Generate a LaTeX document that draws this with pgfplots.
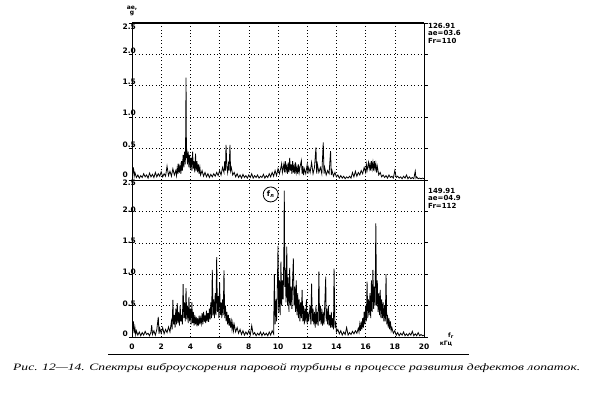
\documentclass[border=0pt]{standalone}
\usepackage{fontspec}
\usepackage{pgfplots}
\pgfplotsset{compat=1.18}
\setmainfont{DejaVu Sans}
\newfontfamily\capfont{Liberation Serif}[ItalicFont={Liberation Serif Italic}]
\newcommand\lf{\fontsize{7.5}{8}\selectfont\bfseries}
\newcommand\rf{\fontsize{7}{7.6}\selectfont\bfseries}
\newcommand\smf{\fontsize{6}{6}\selectfont\bfseries}
\newcommand\lab[2]{\raisebox{#1}[5.5pt][0pt]{#2}}

\pgfplotstableread{
x y
0.00 0.28
0.05 0.10
0.10 0.20
0.15 0.06
0.20 0.12
0.30 0.04
0.40 0.08
0.50 0.03
0.60 0.07
0.70 0.04
0.80 0.10
0.90 0.05
1.00 0.08
1.10 0.03
1.20 0.11
1.30 0.05
1.40 0.09
1.50 0.04
1.60 0.12
1.70 0.05
1.80 0.10
1.90 0.06
2.00 0.13
2.10 0.05
2.20 0.10
2.30 0.06
2.40 0.22
2.50 0.07
2.60 0.14
2.70 0.06
2.80 0.18
2.90 0.08
3.00 0.15
3.05 0.07
3.10 0.20
3.15 0.10
3.20 0.26
3.25 0.12
3.30 0.22
3.35 0.10
3.40 0.30
3.45 0.15
3.50 0.40
3.55 0.20
3.60 0.45
3.65 0.25
3.68 0.77
3.70 1.63
3.73 0.35
3.75 0.50
3.80 0.25
3.85 0.45
3.90 0.20
3.95 0.40
4.00 0.18
4.05 0.35
4.10 0.15
4.15 0.45
4.20 0.18
4.25 0.30
4.30 0.12
4.35 0.42
4.40 0.15
4.45 0.30
4.50 0.12
4.55 0.25
4.60 0.10
4.65 0.20
4.70 0.08
4.80 0.15
4.90 0.06
5.00 0.12
5.10 0.05
5.20 0.10
5.30 0.04
5.40 0.09
5.50 0.05
5.60 0.10
5.70 0.06
5.80 0.12
5.90 0.07
6.00 0.15
6.10 0.08
6.20 0.20
6.30 0.12
6.35 0.30
6.40 0.15
6.44 0.56
6.50 0.20
6.55 0.12
6.60 0.25
6.65 0.15
6.71 0.56
6.75 0.15
6.80 0.20
6.90 0.08
7.00 0.12
7.10 0.05
7.20 0.10
7.30 0.04
7.40 0.08
7.50 0.03
7.60 0.09
7.70 0.04
7.80 0.07
7.90 0.03
8.00 0.08
8.10 0.04
8.20 0.10
8.30 0.03
8.40 0.07
8.50 0.04
8.60 0.08
8.70 0.03
8.80 0.06
8.90 0.04
9.00 0.09
9.10 0.03
9.20 0.07
9.30 0.04
9.40 0.10
9.50 0.05
9.60 0.12
9.70 0.06
9.80 0.15
9.90 0.07
10.00 0.18
10.10 0.10
10.20 0.20
10.25 0.26
10.30 0.12
10.40 0.25
10.45 0.12
10.50 0.30
10.55 0.15
10.60 0.22
10.65 0.10
10.70 0.28
10.75 0.12
10.80 0.35
10.85 0.15
10.90 0.25
10.95 0.10
11.00 0.30
11.05 0.12
11.10 0.22
11.15 0.10
11.20 0.28
11.25 0.12
11.30 0.20
11.35 0.10
11.40 0.25
11.45 0.12
11.50 0.20
11.60 0.31
11.65 0.10
11.70 0.22
11.75 0.08
11.80 0.18
11.90 0.10
12.00 0.25
12.05 0.10
12.10 0.20
12.20 0.12
12.30 0.28
12.40 0.10
12.50 0.20
12.60 0.52
12.65 0.10
12.70 0.25
12.80 0.12
12.90 0.20
13.00 0.10
13.10 0.60
13.15 0.10
13.20 0.20
13.30 0.08
13.40 0.15
13.50 0.10
13.60 0.46
13.65 0.08
13.70 0.15
13.80 0.06
13.90 0.12
14.00 0.05
14.10 0.08
14.20 0.03
14.30 0.07
14.40 0.03
14.50 0.06
14.60 0.02
14.70 0.05
14.80 0.03
14.90 0.06
15.00 0.03
15.10 0.12
15.20 0.05
15.30 0.14
15.40 0.06
15.50 0.12
15.60 0.08
15.70 0.15
15.80 0.10
15.90 0.20
16.00 0.12
16.05 0.25
16.10 0.15
16.20 0.28
16.25 0.18
16.30 0.25
16.35 0.15
16.40 0.30
16.45 0.18
16.50 0.28
16.55 0.15
16.60 0.30
16.65 0.18
16.70 0.26
16.75 0.12
16.80 0.22
16.90 0.08
17.00 0.12
17.10 0.05
17.20 0.08
17.30 0.04
17.40 0.07
17.50 0.03
17.60 0.08
17.70 0.04
17.80 0.06
17.90 0.03
18.00 0.15
18.10 0.04
18.20 0.06
18.30 0.03
18.40 0.05
18.50 0.02
18.60 0.06
18.70 0.03
18.80 0.08
18.90 0.02
19.00 0.05
19.10 0.02
19.20 0.04
19.30 0.02
19.40 0.14
19.45 0.03
19.50 0.05
19.60 0.02
19.70 0.03
19.80 0.02
19.90 0.03
20.00 0.02
}\topdata

\pgfplotstableread{
x y
0.00 0.38
0.05 0.10
0.10 0.25
0.15 0.06
0.20 0.15
0.25 0.04
0.30 0.10
0.40 0.03
0.50 0.08
0.60 0.02
0.70 0.07
0.80 0.03
0.90 0.09
1.00 0.04
1.10 0.06
1.20 0.02
1.30 0.08
1.35 0.19
1.40 0.04
1.50 0.10
1.60 0.03
1.70 0.12
1.80 0.32
1.85 0.05
1.90 0.14
2.00 0.06
2.10 0.15
2.20 0.05
2.30 0.12
2.40 0.07
2.50 0.16
2.60 0.08
2.70 0.25
2.75 0.12
2.80 0.59
2.85 0.20
2.90 0.35
2.95 0.15
3.00 0.45
3.05 0.20
3.10 0.54
3.15 0.22
3.20 0.40
3.25 0.18
3.30 0.50
3.35 0.25
3.40 0.35
3.45 0.20
3.50 0.84
3.55 0.30
3.60 0.55
3.65 0.25
3.70 0.78
3.75 0.28
3.80 0.50
3.85 0.22
3.90 0.64
3.95 0.25
4.00 0.45
4.05 0.20
4.10 0.55
4.15 0.22
4.20 0.40
4.25 0.18
4.30 0.35
4.35 0.20
4.40 0.32
4.45 0.17
4.50 0.30
4.55 0.18
4.60 0.34
4.65 0.20
4.70 0.30
4.75 0.22
4.80 0.38
4.85 0.20
4.90 0.40
4.95 0.24
5.00 0.35
5.05 0.22
5.10 0.42
5.15 0.25
5.20 0.38
5.25 0.24
5.30 0.45
5.35 0.28
5.40 0.55
5.45 0.30
5.50 1.07
5.55 0.35
5.60 0.60
5.65 0.30
5.70 0.70
5.75 0.35
5.80 1.27
5.85 0.40
5.90 0.65
5.95 0.30
6.00 0.86
6.05 0.35
6.10 0.55
6.15 0.30
6.20 0.60
6.25 0.35
6.30 1.06
6.35 0.30
6.40 0.50
6.45 0.25
6.50 0.40
6.55 0.20
6.60 0.35
6.65 0.18
6.70 0.30
6.75 0.15
6.80 0.25
6.85 0.12
6.90 0.22
6.95 0.10
7.00 0.20
7.10 0.08
7.20 0.15
7.30 0.06
7.40 0.12
7.50 0.04
7.60 0.10
7.70 0.03
7.80 0.08
7.90 0.04
8.00 0.10
8.10 0.03
8.20 0.18
8.30 0.04
8.40 0.07
8.50 0.02
8.60 0.06
8.70 0.03
8.80 0.08
8.90 0.02
9.00 0.07
9.10 0.03
9.20 0.06
9.30 0.02
9.40 0.08
9.50 0.03
9.60 0.10
9.70 0.05
9.75 1.00
9.80 0.20
9.86 0.60
9.90 0.25
9.95 0.70
10.00 1.45
10.05 0.40
10.10 0.90
10.15 0.35
10.20 1.20
10.25 0.50
10.30 0.90
10.35 0.60
10.40 1.30
10.43 2.33
10.47 0.80
10.50 1.10
10.55 0.55
10.60 1.44
10.65 0.50
10.70 0.95
10.75 0.40
10.80 1.10
10.85 0.50
10.90 0.80
10.95 0.45
11.00 0.90
11.05 1.25
11.10 0.50
11.15 0.80
11.20 0.40
11.25 0.90
11.30 0.35
11.35 0.70
11.40 0.30
11.45 0.60
11.50 0.25
11.55 0.55
11.60 0.30
11.65 0.75
11.70 0.25
11.75 0.50
11.80 0.20
11.85 0.45
11.90 0.25
11.95 0.60
12.00 0.20
12.05 0.40
12.10 0.25
12.20 0.50
12.25 0.20
12.30 0.85
12.35 0.25
12.40 0.45
12.45 0.20
12.50 0.40
12.55 0.15
12.60 0.50
12.65 0.20
12.70 0.40
12.75 0.18
12.80 1.04
12.85 0.25
12.90 0.50
12.95 0.20
13.00 0.45
13.05 0.18
13.10 0.40
13.15 0.20
13.20 0.50
13.27 0.96
13.30 0.25
13.35 0.45
13.40 0.20
13.45 0.50
13.50 0.18
13.55 0.35
13.60 0.15
13.65 0.40
13.70 0.15
13.75 0.30
13.80 0.12
13.84 1.09
13.90 0.15
13.95 0.25
14.00 0.08
14.10 0.12
14.20 0.05
14.30 0.10
14.40 0.03
14.50 0.08
14.60 0.04
14.70 0.15
14.80 0.03
14.90 0.07
15.00 0.04
15.10 0.09
15.20 0.05
15.30 0.10
15.40 0.06
15.50 0.14
15.55 0.08
15.60 0.20
15.65 0.10
15.70 0.25
15.75 0.12
15.80 0.30
15.85 0.15
15.90 0.40
15.95 0.20
16.00 0.50
16.05 0.25
16.10 0.88
16.15 0.30
16.20 0.60
16.25 0.35
16.30 0.70
16.35 0.30
16.40 0.90
16.45 0.40
16.50 1.07
16.55 0.45
16.60 0.80
16.65 0.50
16.70 1.81
16.75 0.50
16.80 0.90
16.85 0.40
16.90 0.70
16.95 0.35
17.00 0.75
17.05 0.30
17.10 0.60
17.15 0.30
17.20 0.55
17.25 0.25
17.30 0.50
17.35 0.25
17.40 1.00
17.45 0.20
17.50 0.35
17.55 0.15
17.60 0.30
17.65 0.12
17.70 0.25
17.75 0.10
17.80 0.15
17.90 0.06
18.00 0.10
18.10 0.03
18.20 0.07
18.30 0.02
18.40 0.06
18.50 0.03
18.60 0.08
18.70 0.02
18.80 0.05
18.90 0.02
19.00 0.06
19.10 0.03
19.20 0.09
19.30 0.02
19.40 0.05
19.50 0.02
19.60 0.07
19.70 0.02
19.80 0.04
19.90 0.02
20.00 0.03
}\botdata

\pgfplotsset{
  spec/.style={
    width=292pt, height=157pt, scale only axis,
    xmin=0, xmax=20, ymin=0, ymax=2.5,
    xtick={0,2,...,20}, ytick={0,0.5,1,1.5,2,2.5},
    grid=major,
    major grid style={black, line width=0.6pt, dash pattern=on 0.8pt off 2.6pt},
    axis line style={black, line width=0.9pt},
    ytick pos=both, tick align=outside, major tick length=3.5pt,
    ytick style={black, line width=0.8pt},
    xtick style={draw=none},
    yticklabel style={font=\lf, anchor=west, xshift=-9.5pt},
    xticklabel style={font=\lf},
    /pgf/number format/assume math mode=true,
  }
}

\begin{document}
\begin{tikzpicture}
\useasboundingbox (0pt,0pt) rectangle (594pt,394pt);
% top panel
\begin{axis}[spec, at={(132pt,214pt)}, anchor=south west, xticklabels={},
  yticklabels={\lab{5pt}{0},\lab{4pt}{0.5},\lab{4pt}{1.0},\lab{4pt}{1.5},\lab{4pt}{2.0},\lab{-4pt}{2.5}}]
  \addplot[black, line width=0.8pt] table[x=x,y=y] {\topdata};
  \draw[black, line width=1.6pt] (rel axis cs:0,1) -- (rel axis cs:1,1);
\end{axis}
% bottom panel
\begin{axis}[spec, at={(132pt,57pt)}, anchor=south west,
  xticklabels={0,2,4,6,8,10,12,14,16,18,20},
  yticklabels={\lab{3pt}{0},\lab{2pt}{0.5},\lab{2pt}{1.0},\lab{2pt}{1.5},\lab{2pt}{2.0},\lab{-3pt}{2.5}}]
  \addplot[black, line width=0.8pt] table[x=x,y=y] {\botdata};
  \node[draw, circle, line width=0.8pt, inner sep=0pt, minimum size=15pt, font=\lf]
    at (axis cs:9.5,2.27) {f\textsubscript{л}};
\end{axis}
% y label
\node[font=\smf, align=center, inner sep=0pt] at (132pt,383pt) {ae,\\[-1pt]g};
% x label
\node[font=\smf, inner sep=0pt] at (451pt,58pt) {f\textsubscript{r}};
\node[font=\smf, inner sep=0pt] at (446pt,50pt) {кГц};
% readouts
\node[font=\rf, align=left, anchor=north west, inner sep=0pt] at (428pt,371pt)
  {126.91\\ae=03.6\\Fr=110};
\node[font=\rf, align=left, anchor=north west, inner sep=0pt] at (428pt,206pt)
  {149.91\\ae=04.9\\Fr=112};
% separator
\draw[black, line width=0.9pt] (108pt,39.5pt) -- (469pt,39.5pt);
% caption
\node[anchor=base west, inner sep=0pt] at (13pt,24pt)
  {\resizebox{567pt}{7pt}{\capfont\itshape Рис. 12—14. Спектры виброускорения паровой турбины в процессе развития дефектов лопаток.}};
\end{tikzpicture}
\end{document}
